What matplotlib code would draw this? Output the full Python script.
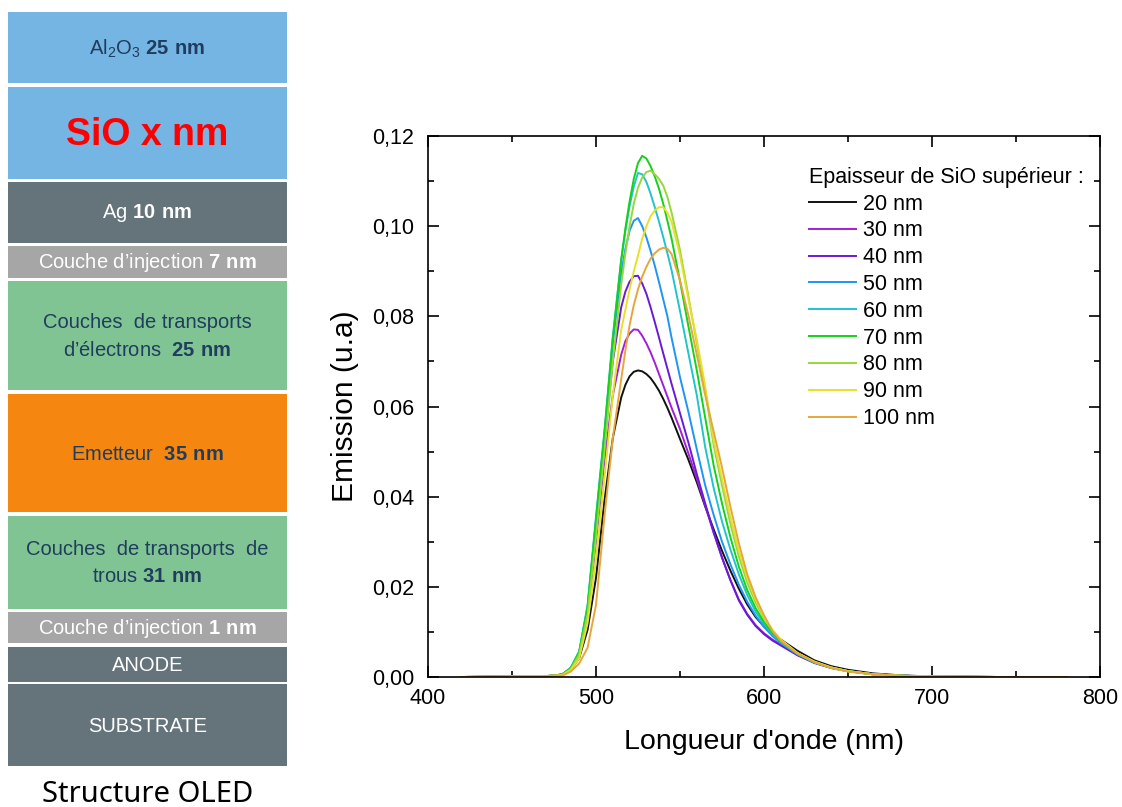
import matplotlib
matplotlib.use('Agg')
import matplotlib.pyplot as plt
from matplotlib.patches import Rectangle
from matplotlib.ticker import FuncFormatter, MultipleLocator

plt.rcParams['font.family'] = ['Liberation Sans', 'DejaVu Sans']
plt.rcParams['mathtext.fontset'] = 'custom'
plt.rcParams['mathtext.rm'] = 'Liberation Sans'
plt.rcParams['mathtext.bf'] = 'Liberation Sans:bold'
plt.rcParams['mathtext.default'] = 'regular'

# ---- spectra ----
wl = [420, 450, 470, 475, 480, 485, 490, 495, 500, 505, 510, 515, 517.5, 520, 522.5,
      525, 527.5, 530, 532.5, 535, 537.5, 540, 542.5, 545, 550, 555, 560, 565, 570,
      575, 580, 585, 590, 595, 600, 605, 610, 620, 630, 640, 650, 665, 680, 700, 740, 780]

em20 = [0, 0.0001, 0.0002, 0.0003, 0.0005, 0.0016, 0.0042, 0.0105, 0.0220, 0.0390, 0.0530, 0.0620, 0.0648, 0.0667, 0.0677,
        0.0680, 0.0678, 0.0672, 0.0663, 0.0650, 0.0635, 0.0617, 0.0597, 0.0575, 0.0528, 0.0482, 0.0432, 0.0378, 0.0328,
        0.0280, 0.0236, 0.0196, 0.0161, 0.0133, 0.0112, 0.0096, 0.0083, 0.0058, 0.0037, 0.0024, 0.0016, 0.0008, 0.0004, 0.0001, 0, 0]
em30 = [0, 0.0001, 0.0002, 0.0003, 0.0005, 0.0018, 0.0050, 0.0140, 0.0300, 0.0480, 0.0625, 0.0715, 0.0745, 0.0762, 0.0771,
        0.0770, 0.0757, 0.0740, 0.0720, 0.0697, 0.0672, 0.0647, 0.0622, 0.0597, 0.0550, 0.0496, 0.0440, 0.0380, 0.0320,
        0.0265, 0.0215, 0.0172, 0.0140, 0.0115, 0.0097, 0.0083, 0.0072, 0.0049, 0.0032, 0.0021, 0.0013, 0.0006, 0.0003, 0.0001, 0, 0]
em40 = [0, 0.0001, 0.0002, 0.0003, 0.0006, 0.0019, 0.0053, 0.0148, 0.0330, 0.0520, 0.0700, 0.0820, 0.0855, 0.0877, 0.0889,
        0.0890, 0.0873, 0.0850, 0.0820, 0.0787, 0.0753, 0.0718, 0.0684, 0.0650, 0.0585, 0.0520, 0.0450, 0.0385, 0.0322,
        0.0265, 0.0215, 0.0170, 0.0138, 0.0113, 0.0095, 0.0081, 0.0070, 0.0048, 0.0031, 0.0020, 0.0013, 0.0006, 0.0003, 0.0001, 0, 0]
em50 = [0, 0.0001, 0.0002, 0.0003, 0.0006, 0.0020, 0.0055, 0.0155, 0.0345, 0.0535, 0.0740, 0.0895, 0.0950, 0.0990, 0.1012,
        0.1018, 0.1000, 0.0975, 0.0945, 0.0912, 0.0876, 0.0838, 0.0800, 0.0752, 0.0665, 0.0588, 0.0505, 0.0425, 0.0360,
        0.0300, 0.0250, 0.0205, 0.0167, 0.0136, 0.0111, 0.0091, 0.0075, 0.0050, 0.0032, 0.0020, 0.0013, 0.0006, 0.0003, 0.0001, 0, 0]
em60 = [0, 0.0001, 0.0002, 0.0003, 0.0006, 0.0021, 0.0057, 0.0160, 0.0355, 0.0545, 0.0755, 0.0925, 0.0990, 0.1045, 0.1088,
        0.1118, 0.1115, 0.1098, 0.1072, 0.1042, 0.1010, 0.0976, 0.0940, 0.0902, 0.0812, 0.0718, 0.0625, 0.0510, 0.0420,
        0.0345, 0.0283, 0.0228, 0.0182, 0.0145, 0.0117, 0.0095, 0.0077, 0.0051, 0.0032, 0.0021, 0.0013, 0.0006, 0.0003, 0.0001, 0, 0]
em70 = [0, 0.0001, 0.0002, 0.0003, 0.0006, 0.0020, 0.0055, 0.0155, 0.0350, 0.0540, 0.0750, 0.0925, 0.0995, 0.1055, 0.1105,
        0.1140, 0.1156, 0.1150, 0.1133, 0.1110, 0.1083, 0.1050, 0.1012, 0.0972, 0.0878, 0.0778, 0.0680, 0.0575, 0.0470,
        0.0385, 0.0310, 0.0245, 0.0193, 0.0153, 0.0122, 0.0098, 0.0079, 0.0052, 0.0033, 0.0021, 0.0013, 0.0006, 0.0003, 0.0001, 0, 0]
em80 = [0, 0.0001, 0.0002, 0.0003, 0.0005, 0.0018, 0.0050, 0.0140, 0.0310, 0.0500, 0.0700, 0.0870, 0.0940, 0.1000, 0.1050,
        0.1085, 0.1108, 0.1120, 0.1123, 0.1115, 0.1105, 0.1090, 0.1065, 0.1030, 0.0947, 0.0845, 0.0740, 0.0635, 0.0515,
        0.0425, 0.0340, 0.0268, 0.0210, 0.0165, 0.0130, 0.0103, 0.0082, 0.0053, 0.0034, 0.0021, 0.0013, 0.0006, 0.0003, 0.0001, 0, 0]
em90 = [0, 0.0001, 0.0002, 0.0003, 0.0004, 0.0015, 0.0042, 0.0120, 0.0260, 0.0440, 0.0625, 0.0770, 0.0815, 0.0860, 0.0900,
        0.0935, 0.0972, 0.1000, 0.1022, 0.1035, 0.1042, 0.1042, 0.1030, 0.1010, 0.0935, 0.0838, 0.0748, 0.0645, 0.0526,
        0.0440, 0.0355, 0.0280, 0.0220, 0.0172, 0.0134, 0.0105, 0.0083, 0.0053, 0.0034, 0.0021, 0.0013, 0.0006, 0.0003, 0.0001, 0, 0]
em100 = [0, 0.0001, 0.0002, 0.0003, 0.0003, 0.0012, 0.0030, 0.0065, 0.0160, 0.0355, 0.0530, 0.0660, 0.0725, 0.0780, 0.0825,
         0.0860, 0.0888, 0.0910, 0.0928, 0.0940, 0.0948, 0.0952, 0.0950, 0.0938, 0.0880, 0.0802, 0.0715, 0.0625, 0.0545,
         0.0465, 0.0378, 0.0297, 0.0228, 0.0177, 0.0137, 0.0102, 0.0080, 0.0052, 0.0033, 0.0020, 0.0012, 0.0006, 0.0003, 0.0001, 0, 0]

series = [em20, em30, em40, em50, em60, em70, em80, em90, em100]
series_labels = ['20 nm', '30 nm', '40 nm', '50 nm', '60 nm', '70 nm', '80 nm', '90 nm', '100 nm']
series_colors = ['#111111', '#a21fd8', '#6a19d6', '#1e95f5', '#22c3cc', '#14d21a', '#96d83c', '#e6e02a', '#e8a63a']

# ---- OLED stack ----
layer_labels = [r'Al$_2$O$_3$ $\mathbf{25\ nm}$',
                'SiO x nm',
                r'Ag $\mathbf{10\ nm}$',
                r'Couche d’injection $\mathbf{7\ nm}$',
                'Couches  de transports\n' + r'd’électrons  $\mathbf{25\ nm}$',
                r'Emetteur  $\mathbf{35\ nm}$',
                'Couches  de transports  de\n' + r'trous $\mathbf{31\ nm}$',
                r'Couche d’injection $\mathbf{1\ nm}$',
                'ANODE',
                'SUBSTRATE']
layer_colors = ['#75b5e3', '#75b5e3', '#65737b', '#a6a6a6', '#80c494',
                '#f5860f', '#80c494', '#a6a6a6', '#65737b', '#65737b']
layer_text_colors = ['#1f3d5c', '#ff0000', 'white', 'white', '#1f3d5c',
                     '#1f3d5c', '#1f3d5c', 'white', 'white', 'white']
# top / bottom of each box, in pixel rows of the figure
layer_top = [11.7, 87.3, 181.7, 246, 281, 394, 515.7, 611.7, 646.7, 684.3]
layer_bot = [83.3, 179, 242.7, 278, 390, 512.3, 609, 643.3, 681.7, 765.7]

W, H = 1122, 807
fig = plt.figure(figsize=(W / 100, H / 100), dpi=100)

ax0 = fig.add_axes([0, 0, 1, 1])
ax0.set_xlim(0, W)
ax0.set_ylim(H, 0)
ax0.axis('off')
for lab, c, tc, t, b in zip(layer_labels, layer_colors, layer_text_colors, layer_top, layer_bot):
    ax0.add_patch(Rectangle((8.3, t), 278.4, b - t, facecolor=c, edgecolor='none'))
    if lab == 'SiO x nm':
        ax0.text(147.5, (t + b) / 2 + 2, lab, color=tc, fontsize=27, fontweight='bold',
                 ha='center', va='center')
    else:
        ax0.text(147.5, (t + b) / 2 + 1, lab, color=tc, fontsize=14.5, ha='center',
                 va='center', multialignment='center', linespacing=1.55)
ax0.text(147.5, 794, 'Structure OLED', fontsize=21, family='Noto Sans',
         ha='center', va='center', color='black')

# ---- emission spectra ----
ax = fig.add_axes([428 / W, 1 - 677 / H, (1100 - 428) / W, (677 - 136) / H])
for y, lab, c in zip(series, series_labels, series_colors):
    ax.plot(wl, y, color=c, lw=1.4, label=lab)

ax.set_xlim(400, 800)
ax.set_ylim(0, 0.12)
ax.xaxis.set_major_locator(MultipleLocator(100))
ax.xaxis.set_minor_locator(MultipleLocator(50))
ax.yaxis.set_major_locator(MultipleLocator(0.02))
ax.yaxis.set_minor_locator(MultipleLocator(0.01))
ax.yaxis.set_major_formatter(FuncFormatter(lambda v, p: f'{v:.2f}'.replace('.', ',')))
ax.tick_params(which='both', direction='in', top=True, right=True, width=1.2,
               labelsize=15.5)
ax.tick_params(axis='y', pad=10)
ax.tick_params(axis='x', pad=8)
ax.tick_params(which='major', length=8)
ax.tick_params(which='minor', length=4)
for s in ax.spines.values():
    s.set_linewidth(1.2)
ax.set_xlabel("Longueur d'onde (nm)", fontsize=20.5, labelpad=14)
ax.set_ylabel('Emission (u.a)', fontsize=21.5, labelpad=9)

leg = ax.legend(title='Epaisseur de SiO supérieur :', loc='upper left',
                bbox_to_anchor=(798 / W, 1 - 156 / H), bbox_transform=fig.transFigure,
                frameon=False, fontsize=15.5, title_fontsize=15.5, borderpad=0,
                handlelength=2.2, handletextpad=0.33, labelspacing=0.27,
                alignment='left')

fig.savefig('out.png', dpi=100)
